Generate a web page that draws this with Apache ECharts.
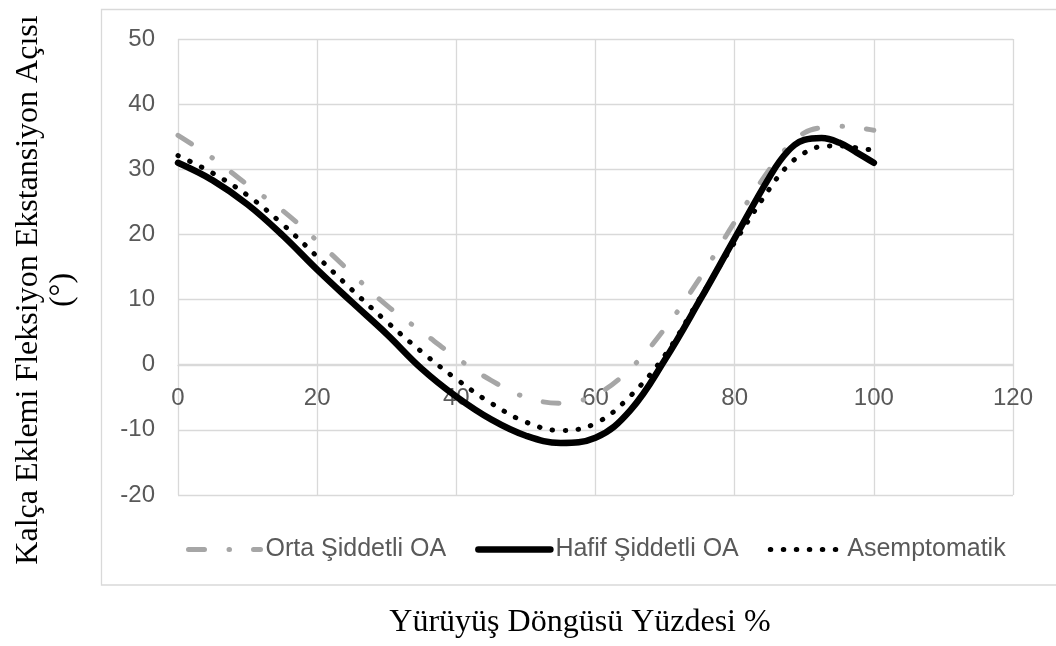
<!DOCTYPE html>
<html>
<head>
<meta charset="utf-8">
<script src="https://cdn.jsdelivr.net/npm/echarts@6/dist/echarts.min.js"></script>
<style>
html,body{margin:0;padding:0;background:#fff;}
#c{width:1056px;height:646px;}
</style>
</head>
<body>
<div id="c"></div>
<script>
const xValues = [0,5,10,15,20,25,30,35,40,45,50,55,60,65,70,75,80,85,87.5,90,92.5,95,97.5,100];
const ortaValues = [35.2,31.7,27.6,23.7,19.0,14.0,9.1,5.1,1.1,-2.4,-5.0,-5.9,-4.6,-0.6,5.6,13.3,21.9,30.0,33.3,35.6,36.4,36.6,36.4,36.0];
const hafifValues = [31.0,28.3,24.6,19.9,14.6,9.6,4.7,-0.6,-4.9,-8.4,-10.9,-12.0,-11.2,-7.0,0.8,9.9,19.4,28.8,32.6,34.5,34.8,34.1,32.6,31.0];
const asempValues = [32.1,29.4,26.0,21.6,16.6,11.5,6.6,2.0,-2.2,-5.9,-8.8,-10.1,-9.0,-4.8,1.5,10.2,18.8,27.0,30.4,32.5,33.5,33.6,33.3,32.9];
const seriesNames = ['Orta Şiddetli OA','Hafif Şiddetli OA','Asemptomatik'];
const xTitle = 'Yürüyüş Döngüsü Yüzdesi %';
const yTitle = 'Kalça Eklemi Fleksiyon Ekstansiyon Açısı\n(°)';

const pairs = vals => xValues.map((x,i)=>[x, vals[i]]);
const gridColor = '#d9d9d9';
const labelFont = {color:'#595959', fontSize:24, fontFamily:'Liberation Sans, Arial, sans-serif'};

const chart = echarts.init(document.getElementById('c'));
chart.setOption({
  animation:false,
  backgroundColor:'#fff',
  grid:{left:178, top:39, width:835, height:456},
  xAxis:{
    type:'value', min:0, max:120, interval:20,
    offset:-130,
    axisLine:{show:true, onZero:false, lineStyle:{color:gridColor, width:1.3}},
    axisTick:{show:false},
    splitLine:{show:true, lineStyle:{color:gridColor, width:1.3}},
    axisLabel:Object.assign({margin:21}, labelFont)
  },
  yAxis:{
    type:'value', min:-20, max:50, interval:10,
    axisLine:{show:false},
    axisTick:{show:false},
    splitLine:{show:true, lineStyle:{color:gridColor, width:1.3}},
    axisLabel:Object.assign({margin:23}, labelFont)
  },
  legend:{
    left:181, top:532,
    itemWidth:72, itemHeight:14, itemGap:29,
    textStyle:{color:'#595959', fontSize:25, fontFamily:'Liberation Sans, Arial, sans-serif'},
    lineStyle:{width:'inherit'},
    itemStyle:{opacity:0},
    data:seriesNames
  },
  series:[
    {name:seriesNames[0], type:'line', smooth:0.4, symbol:'none', data:pairs(ortaValues),
     lineStyle:{color:'#a6a6a6', width:5, type:[16,24.5,0.5,24], cap:'round'}, itemStyle:{color:'#a6a6a6'}},
    {name:seriesNames[1], type:'line', smooth:0.4, symbol:'none', data:pairs(hafifValues),
     lineStyle:{color:'#000', width:6.5, type:'solid', cap:'round'}, itemStyle:{color:'#000'}},
    {name:seriesNames[2], type:'line', smooth:0.4, symbol:'none', data:pairs(asempValues),
     lineStyle:{color:'#000', width:5, type:[0.5,12.5], cap:'round'}, itemStyle:{color:'#000'}}
  ],
  graphic:[
    {type:'rect', shape:{x:101.5, y:9.5, width:1000, height:575.5}, silent:true, z:-1,
     style:{fill:'none', stroke:gridColor, lineWidth:1.3}},
    {type:'text', x:580, y:623, silent:true,
     style:{text:xTitle, fill:'#000', font:'32px "Liberation Serif", "Times New Roman", serif', align:'center', verticalAlign:'middle'}},
    {type:'text', x:46, y:290, rotation:Math.PI/2, silent:true,
     style:{text:yTitle, fill:'#000', font:'32px "Liberation Serif", "Times New Roman", serif', align:'center', verticalAlign:'middle', lineHeight:34}}
  ]
});
</script>
</body>
</html>
